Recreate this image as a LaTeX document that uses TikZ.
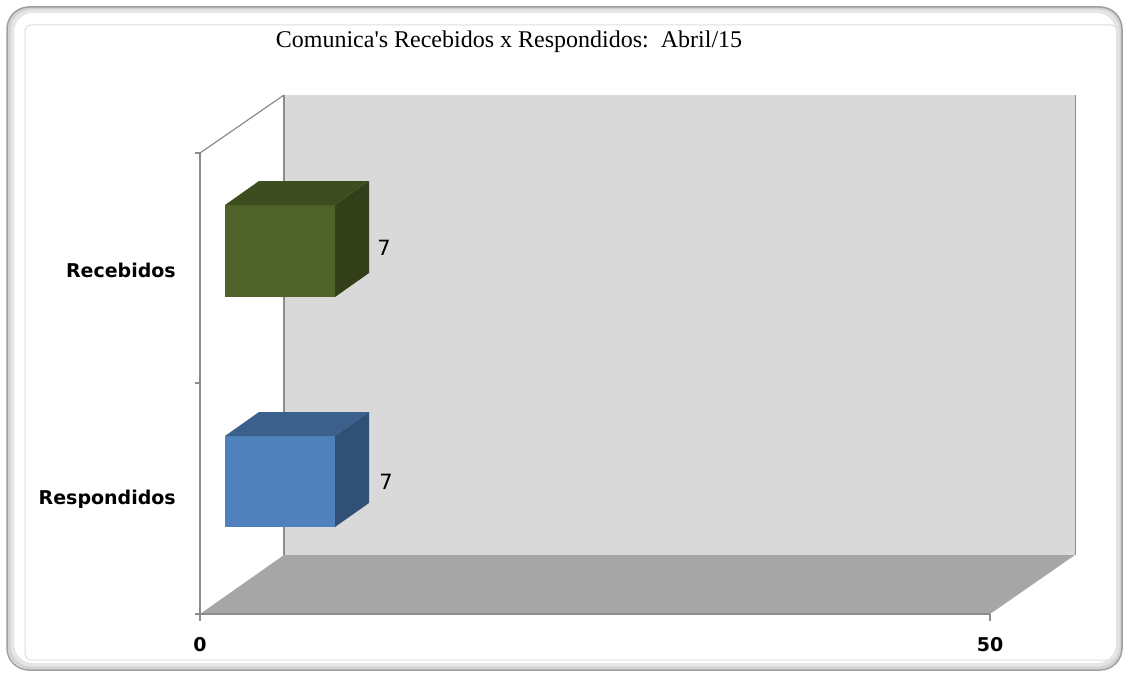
\documentclass[tikz,border=0pt]{standalone}
\usepackage{fontspec}
\setmainfont{Liberation Serif}
\newfontfamily\axisfont{DejaVu Sans}
\definecolor{wallc}{HTML}{D9D9D9}
\definecolor{floorc}{HTML}{A6A6A6}
\definecolor{axisc}{HTML}{8C8C8C}
\definecolor{gfront}{HTML}{4F6228}
\definecolor{gtop}{HTML}{3E4D1F}
\definecolor{gside}{HTML}{323F19}
\definecolor{bfront}{HTML}{4F81BD}
\definecolor{btop}{HTML}{3C608C}
\definecolor{bside}{HTML}{305076}
\tikzset{
  axisline/.style={draw=axisc, line width=1.2pt},
  catlabel/.style={font=\axisfont\bfseries\fontsize{19}{21}\selectfont, anchor=east, inner sep=0pt},
  vallabel/.style={font=\axisfont\bfseries\fontsize{19}{21}\selectfont, inner sep=0pt},
  datalabel/.style={font=\axisfont\fontsize{21}{23}\selectfont, inner sep=0pt}
}
\begin{document}
\begin{tikzpicture}[x=1pt,y=-1pt]
\useasboundingbox (0,0) rectangle (1129,677);
\fill[white] (0,0) rectangle (1129,677);
% frame with shadow
\draw[gray!20, line width=6pt, rounded corners=22] (11,10) rectangle (1119,666);
\draw[gray!35, line width=3pt, rounded corners=22] (9,8) rectangle (1121,668);
\draw[gray!75, line width=1.5pt, rounded corners=22] (7,7) rectangle (1122,670);
\draw[gray!25, line width=1pt, rounded corners=6] (25,25) rectangle (1117,660);
% back wall
\fill[wallc] (284,95) rectangle (1075,555);
\draw[axisc, line width=1pt] (1075,95) -- (1075,555);
% floor
\fill[floorc] (200,614) -- (990,614) -- (1075,555) -- (284,555) -- cycle;
% axes
\draw[axisline] (284,95) -- (284,555);
\draw[axisline] (200,153) -- (284,95);
\draw[axisline] (200,153) -- (200,614) -- (990,614);
\draw[axisline] (195,153) -- (200,153);
\draw[axisline] (195,383) -- (200,383);
\draw[axisline] (195,614) -- (200,614);
\draw[axisline] (200,614) -- (200,621);
\draw[axisline] (990,614) -- (990,621);
% green bar (Recebidos)
\fill[gfront] (225,205) rectangle (335,297);
\fill[gtop] (225,205) -- (259,181) -- (369,181) -- (335,205) -- cycle;
\fill[gside] (335,205) -- (369,181) -- (369,273) -- (335,297) -- cycle;
% blue bar (Respondidos)
\fill[bfront] (225,436) rectangle (335,527);
\fill[btop] (225,436) -- (259,412) -- (369,412) -- (335,436) -- cycle;
\fill[bside] (335,436) -- (369,412) -- (369,503) -- (335,527) -- cycle;
% labels
\node[font=\fontsize{24}{26}\selectfont] (title) at (509,42) {Comunica\textquotesingle s Recebidos x Respondidos:\ \ Abril/15};
\node[catlabel] (lrec) at (176,270) {Recebidos};
\node[catlabel] (lresp) at (176,499) {Respondidos};
\node[vallabel] (x0) at (200,645) {0};
\node[vallabel] (x50) at (990,645) {50};
\node[datalabel] (d1) at (384,248) {7};
\node[datalabel] (d2) at (386,482) {7};
\end{tikzpicture}
\end{document}
